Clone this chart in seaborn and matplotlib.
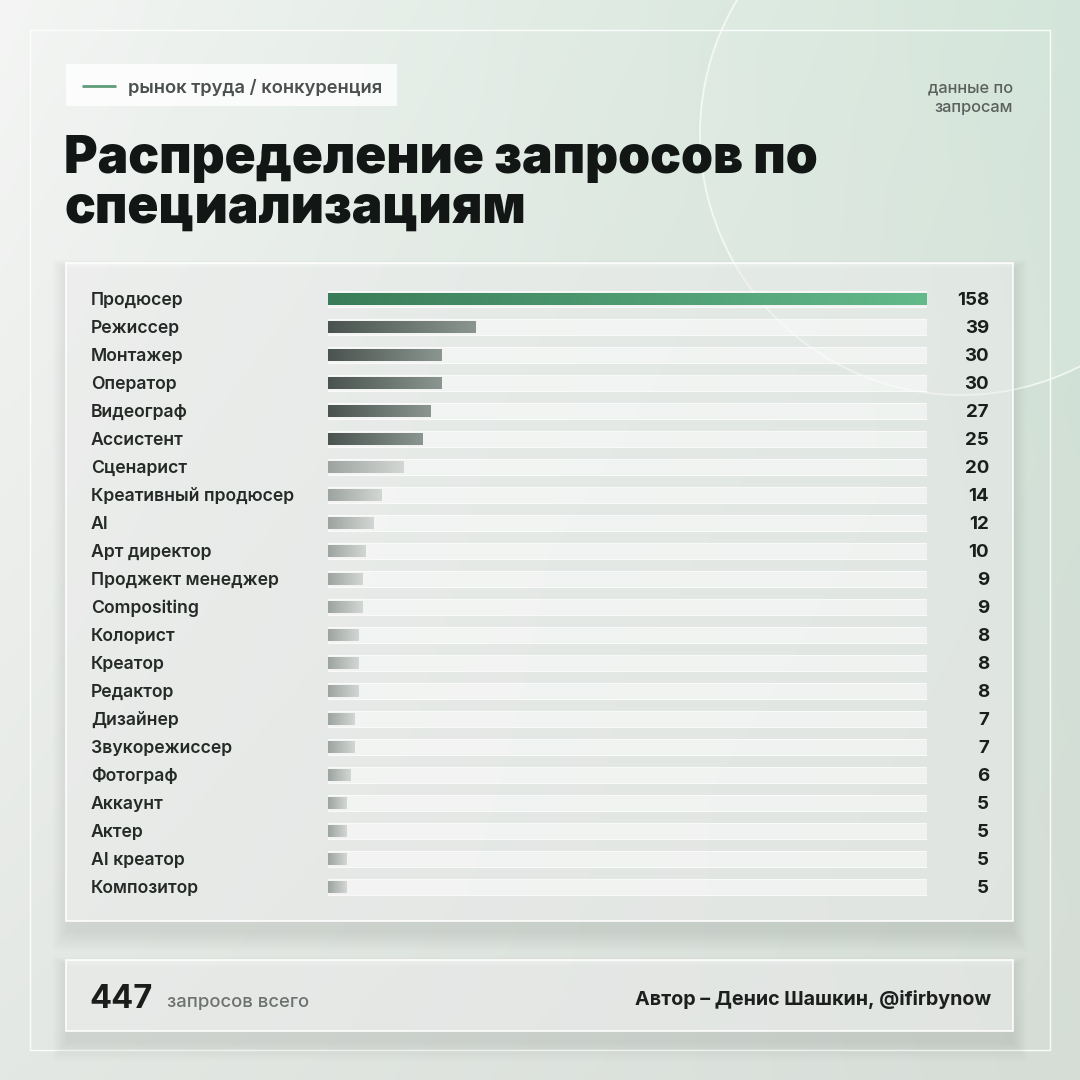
import numpy as np
import pandas as pd
import matplotlib
matplotlib.use("Agg")
import matplotlib.pyplot as plt
import seaborn as sns
import matplotlib.transforms as mtrans
from matplotlib.patches import Rectangle, Circle
from matplotlib.colors import LinearSegmentedColormap, to_rgb

# ---------------- data ----------------
categories = ["Продюсер", "Режиссер", "Монтажер", "Оператор", "Видеограф", "Ассистент",
              "Сценарист", "Креативный продюсер", "AI", "Арт директор", "Проджект менеджер",
              "Compositing", "Колорист", "Креатор", "Редактор", "Дизайнер", "Звукорежиссер",
              "Фотограф", "Аккаунт", "Актер", "AI креатор", "Композитор"]
values = [158, 39, 30, 30, 27, 25, 20, 14, 12, 10, 9, 9, 8, 8, 8, 7, 7, 6, 5, 5, 5, 5]
total = 447
tag_text = "рынок труда / конкуренция"
corner_note_lines = ["данные по", "запросам"]
title_lines = ["Распределение запросов по", "специализациям"]
total_label = "запросов всего"
author = "Автор – Денис Шашкин, @ifirbynow"

# ---------------- style ----------------
sns.set_theme(style="white")
plt.rcParams["font.family"] = ["Inter", "DejaVu Sans"]

fig = plt.figure(figsize=(10.8, 10.8), dpi=100)

# background axes in pixel coordinates
bg = fig.add_axes([0, 0, 1, 1])
bg.axis("off")
tl, tr, bl, br = [np.array(to_rgb(c)) for c in ("#f4f5f4", "#cfe3d6", "#e4e8e4", "#d6ddd7")]
W = H = 216
u = np.linspace(0, 1, W)[None, :, None]
v = np.linspace(0, 1, H)[:, None, None]
img = (1 - u) * (1 - v) * tl + u * (1 - v) * tr + (1 - u) * v * bl + u * v * br
bg.imshow(img, extent=[0, 1080, 1080, 0], aspect="auto", zorder=0, interpolation="bicubic")
bg.set_xlim(0, 1080)
bg.set_ylim(1080, 0)

bg.add_patch(Circle((961, 134), 261, fc=(1, 1, 1, 0.10), ec=(1, 1, 1, 0.7), lw=1.3, zorder=1))
bg.add_patch(Rectangle((30, 30), 1020, 1020, fill=False, ec=(1, 1, 1, 0.9), lw=1.0, zorder=2))

def panel(x, y, w, h, alpha=0.5):
    for k in range(10):
        bg.add_patch(Rectangle((x - k * 1.5, y + 6 - k * 1.0), w + k * 3, h + 6 + k * 3,
                               fc=(0.15, 0.2, 0.17, 0.007), ec="none", zorder=2))
    bg.add_patch(Rectangle((x, y), w, h, fc=(1, 1, 1, alpha), ec=(1, 1, 1, 0.95), lw=1.2, zorder=3))

panel(66, 263, 947, 658, 0.5)
panel(66, 960, 947, 71, 0.5)

# tag
bg.add_patch(Rectangle((66, 64), 331, 42, fc=(1, 1, 1, 0.8), ec="none", zorder=3))
bg.plot([82, 116], [86, 86], color="#5f9c7b", lw=2, zorder=4, solid_capstyle="butt")
bg.text(128, 93, tag_text, ha="left", va="baseline", fontsize=13.2, fontweight="semibold",
        color="#4b504d", zorder=5)

# corner note
for j, line in enumerate(corner_note_lines):
    bg.text(1013, 92 + j * 20, line, ha="right", va="baseline", fontsize=11.8,
            fontweight="medium", color="#5a615d", zorder=5)

# title
for j, line in enumerate(title_lines):
    bg.text(64, 173 + j * 50, line, ha="left", va="baseline", fontsize=37,
            fontweight="black", color="#121614", zorder=5)

# footer
bg.text(89, 1008, f"{total}", ha="left", va="baseline", fontsize=23.5, fontweight="bold",
        color="#1a1d1b", zorder=5)
bg.text(167, 1007, total_label, ha="left", va="baseline", fontsize=13.3, fontweight="medium",
        color="#6d726e", zorder=5)
bg.text(991, 1005, author, ha="right", va="baseline", fontsize=14.2, fontweight="bold",
        color="#1c1f1d", zorder=5)

# ---------------- bars ----------------
n = len(categories)
ax = fig.add_axes([328 / 1080, 1 - 901 / 1080, 599 / 1080, 616 / 1080])
ax.patch.set_alpha(0)
df = pd.DataFrame({"cat": categories, "val": values, "track": [max(values)] * n})

sns.barplot(data=df, x="track", y="cat", orient="h", color="#ffffff", width=0.54,
            errorbar=None, ax=ax, zorder=1)
n_track = len(ax.patches)
sns.barplot(data=df, x="val", y="cat", orient="h", color="#888888", width=0.46,
            errorbar=None, ax=ax, zorder=2)

for p in ax.patches[:n_track]:
    p.set_facecolor((1, 1, 1, 0.5))
    p.set_edgecolor((1, 1, 1, 0.85))
    p.set_linewidth(0.6)

cm_green = LinearSegmentedColormap.from_list("g", ["#3a7c59", "#63ba8b"])
cm_dark = LinearSegmentedColormap.from_list("d", ["#4a534f", "#8b9690"])
cm_light = LinearSegmentedColormap.from_list("l", ["#9da49f", "#d3d7d4"])
grad = np.linspace(0, 1, 256).reshape(1, -1)

for i, p in enumerate(ax.patches[n_track:]):
    x0, y0, w, h = p.get_x(), p.get_y(), p.get_width(), p.get_height()
    cmap = cm_green if i == 0 else (cm_dark if i < 6 else cm_light)
    p.set_facecolor("none")
    p.set_edgecolor("none")
    im = ax.imshow(grad, cmap=cmap, extent=[x0, x0 + w, y0 + h, y0], aspect="auto",
                   zorder=3, interpolation="bilinear")
    im.set_clip_path(p)

ax.set_xlim(0, max(values))
ax.set_ylim(n - 0.5, -0.5)
ax.axis("off")

tr_lab = mtrans.blended_transform_factory(fig.transFigure, ax.transData)
for i, (c, val) in enumerate(zip(categories, values)):
    ax.text(91 / 1080, i + 6 / 28, c, transform=tr_lab, ha="left", va="baseline",
            fontsize=12.7, fontweight="semibold", color="#252a27")
    ax.text(989 / 1080, i + 6 / 28, f"{val}", transform=tr_lab, ha="right", va="baseline",
            fontsize=13.5, fontweight="bold", color="#1b1f1c")

fig.savefig("out.png", dpi=100)
